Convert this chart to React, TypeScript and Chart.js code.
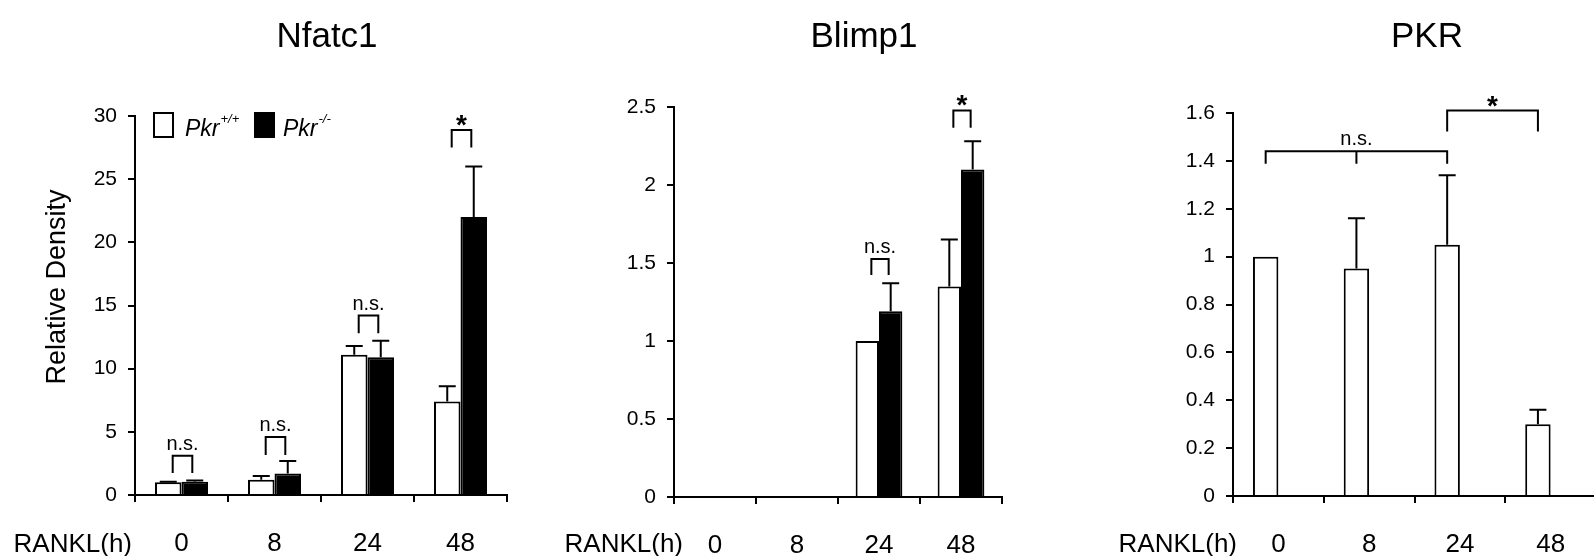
import React, { useEffect, useRef } from "react";
import { Chart, registerables } from "chart.js";

Chart.register(...registerables);

const FONT = "'Liberation Sans', Arial, Helvetica, sans-serif";

// ---------- data ----------
const categories = ["0", "8", "24", "48"];
const xAxisName = "RANKL(h)";
const yAxisName = "Relative Density";
const seriesBase = ["Pkr", "Pkr"];
const seriesSup = ["+/+", "-/-"];

const nfatc1WT = [1.0, 1.2, 11.1, 7.4];
const nfatc1WTErr = [0.05, 0.3, 0.7, 1.2];
const nfatc1KO = [1.05, 1.7, 10.9, 22.0];
const nfatc1KOErr = [0.1, 1.0, 1.3, 4.0];
const nfatc1Sig = [
  { cats: [0], top: 3.1, low: 1.74, text: "n.s." },
  { cats: [1], top: 4.6, low: 3.16, text: "n.s." },
  { cats: [2], top: 14.2, low: 12.8, text: "n.s." },
  { cats: [3], top: 28.9, low: 27.5, text: "*" },
];

const blimp1WT = [0, 0, 1.0, 1.35];
const blimp1WTErr = [0, 0, 0, 0.3];
const blimp1KO = [0, 0, 1.19, 2.1];
const blimp1KOErr = [0, 0, 0.18, 0.18];
const blimp1Sig = [
  { cats: [2], top: 1.525, low: 1.423, text: "n.s." },
  { cats: [3], top: 2.478, low: 2.367, text: "*" },
];

const pkrWT = [1.0, 0.95, 1.05, 0.3];
const pkrWTErr = [0, 0.21, 0.29, 0.06];
const pkrKO = [null, null, null, null];
const pkrKOErr = [0, 0, 0, 0];
const pkrSig = [
  { cats: [0, 1, 2], top: 1.44, low: 1.388, text: "n.s." },
  { cats: [2, 3], top: 1.61, low: 1.523, text: "*" },
];

// ---------- panel layout ----------
const panels = [
  {
    title: "Nfatc1", wt: nfatc1WT, wtErr: nfatc1WTErr, ko: nfatc1KO, koErr: nfatc1KOErr, sig: nfatc1Sig,
    yMax: 30, yStep: 5,
    canvasLeft: 0, canvasWidth: 530, chartLeft: 135, chartRight: 507, chartTop: 116, chartBottom: 495,
    titleX: 327, rankRight: 132, catPct: 0.57, showLegend: true, showYTitle: true,
  },
  {
    title: "Blimp1", wt: blimp1WT, wtErr: blimp1WTErr, ko: blimp1KO, koErr: blimp1KOErr, sig: blimp1Sig,
    yMax: 2.5, yStep: 0.5,
    canvasLeft: 540, canvasWidth: 500, chartLeft: 674, chartRight: 1002, chartTop: 107, chartBottom: 497,
    titleX: 864, rankRight: 683, catPct: 0.57, showLegend: false, showYTitle: false,
  },
  {
    title: "PKR", wt: pkrWT, wtErr: pkrWTErr, ko: pkrKO, koErr: pkrKOErr, sig: pkrSig,
    yMax: 1.6, yStep: 0.2,
    canvasLeft: 1060, canvasWidth: 545, chartLeft: 1233, chartRight: 1596, chartTop: 113, chartBottom: 496,
    titleX: 1427, rankRight: 1237, catPct: 0.56, showLegend: false, showYTitle: false,
  },
];

const H = 556;

function Panel({ p }: { p: any }) {
  const ref = useRef<HTMLCanvasElement | null>(null);
  useEffect(() => {
    if (!ref.current) return;
    const errs = [p.wtErr, p.koErr];
    const extras = {
      id: "extras" + p.title,
      afterDatasetsDraw(chart: any) {
        const ctx = chart.ctx;
        const ys = chart.scales.y;
        ctx.save();
        ctx.strokeStyle = "#000";
        ctx.lineWidth = 2;
        // error bars (upper only)
        for (let d = 0; d < 2; d++) {
          const meta = chart.getDatasetMeta(d);
          const vals = chart.data.datasets[d].data;
          meta.data.forEach((el: any, j: number) => {
            const v = vals[j];
            const e = errs[d][j];
            if (v == null || !e || e <= 0) return;
            const yTop = ys.getPixelForValue(v + e);
            ctx.beginPath();
            ctx.moveTo(el.x, el.y);
            ctx.lineTo(el.x, yTop);
            ctx.moveTo(el.x - 8.5, yTop);
            ctx.lineTo(el.x + 8.5, yTop);
            ctx.stroke();
          });
        }
        // significance brackets
        const m0 = chart.getDatasetMeta(0);
        const m1 = chart.getDatasetMeta(1);
        p.sig.forEach((s: any) => {
          const yT = ys.getPixelForValue(s.top);
          const yL = ys.getPixelForValue(s.low);
          let xs: number[];
          if (s.cats.length === 1) {
            const c = s.cats[0];
            const a = m0.data[c];
            const b = m1.data[c];
            const center = (a.x + b.x) / 2 + 1;
            const half = 0.37 * a.width;
            xs = [center - half, center + half];
          } else {
            xs = s.cats.map((c: number) => m0.data[c].x);
          }
          const x1 = xs[0];
          const x2 = xs[xs.length - 1];
          ctx.lineJoin = "miter";
          ctx.lineCap = "butt";
          ctx.beginPath();
          ctx.moveTo(x1, yL);
          ctx.lineTo(x1, yT);
          ctx.lineTo(x2, yT);
          ctx.lineTo(x2, yL);
          for (let k = 1; k < xs.length - 1; k++) {
            ctx.moveTo(xs[k], yT);
            ctx.lineTo(xs[k], yL);
          }
          ctx.stroke();
          ctx.fillStyle = "#000";
          ctx.textAlign = "center";
          ctx.textBaseline = "alphabetic";
          const cx = (x1 + x2) / 2;
          if (s.text === "*") {
            ctx.font = `bold 28px ${FONT}`;
            ctx.fillText("*", cx, yT + 4);
          } else {
            ctx.font = `20px ${FONT}`;
            ctx.fillText(s.text, cx, yT - 6);
          }
        });
        ctx.restore();
      },
      afterDraw(chart: any) {
        const ctx = chart.ctx;
        const off = p.canvasLeft;
        ctx.save();
        ctx.fillStyle = "#000";
        // title
        ctx.font = `35px ${FONT}`;
        ctx.textAlign = "center";
        ctx.textBaseline = "alphabetic";
        ctx.fillText(p.title, p.titleX - off, 47);
        // x axis name
        ctx.font = `26px ${FONT}`;
        ctx.textAlign = "right";
        ctx.textBaseline = "middle";
        ctx.fillText(xAxisName, p.rankRight - off, 545);
        // y axis title
        if (p.showYTitle) {
          ctx.save();
          ctx.translate(58, 287);
          ctx.rotate(-Math.PI / 2);
          ctx.font = `27px ${FONT}`;
          ctx.textAlign = "center";
          ctx.textBaseline = "middle";
          ctx.fillText(yAxisName, 0, 0);
          ctx.restore();
        }
        // legend
        if (p.showLegend) {
          const items = [
            { box: 154, text: 185, fill: "#fff" },
            { box: 255, text: 283, fill: "#000" },
          ];
          items.forEach((it, i) => {
            ctx.lineWidth = 2;
            ctx.strokeStyle = "#000";
            ctx.fillStyle = it.fill;
            ctx.fillRect(it.box, 113, 19, 24);
            ctx.strokeRect(it.box, 113, 19, 24);
            ctx.fillStyle = "#000";
            ctx.textAlign = "left";
            ctx.textBaseline = "alphabetic";
            ctx.font = `italic 23px ${FONT}`;
            ctx.fillText(seriesBase[i], it.text, 136);
            const w = ctx.measureText(seriesBase[i]).width;
            ctx.font = `italic 13px ${FONT}`;
            ctx.fillText(seriesSup[i], it.text + w + 1, 123);
          });
        }
        ctx.restore();
      },
    };

    const gridOpts = {
      display: true,
      drawOnChartArea: false,
      drawTicks: true,
      tickLength: 7,
      color: "#000",
      lineWidth: 2,
    };
    const chart = new Chart(ref.current, {
      type: "bar",
      data: {
        labels: categories,
        datasets: [
          {
            label: seriesBase[0] + seriesSup[0],
            data: p.wt,
            backgroundColor: "#ffffff",
            borderColor: "#000000",
            borderWidth: 2,
            categoryPercentage: p.catPct,
            barPercentage: 1,
          },
          {
            label: seriesBase[1] + seriesSup[1],
            data: p.ko,
            backgroundColor: "#000000",
            borderColor: "#000000",
            borderWidth: 2,
            categoryPercentage: p.catPct,
            barPercentage: 1,
          },
        ],
      },
      options: {
        animation: false,
        responsive: false,
        maintainAspectRatio: false,
        layout: {
          padding: {
            top: p.chartTop,
            left: 0,
            bottom: 0,
            right: p.canvasLeft + p.canvasWidth - p.chartRight,
          },
        },
        plugins: {
          legend: { display: false },
          tooltip: { enabled: false },
          title: { display: false },
        },
        scales: {
          x: {
            offset: true,
            grid: { ...gridOpts, offset: true },
            border: { display: true, color: "#000", width: 2 },
            ticks: {
              color: "#000",
              font: { family: FONT, size: 26 },
              padding: 26,
              maxRotation: 0,
              autoSkip: false,
            },
            afterFit: (s: any) => {
              s.height = H - p.chartBottom;
            },
          },
          y: {
            min: 0,
            max: p.yMax,
            grid: gridOpts,
            border: { display: true, color: "#000", width: 2 },
            ticks: {
              stepSize: p.yStep,
              color: "#000",
              font: { family: FONT, size: 21 },
              padding: 11,
              callback: (v: any) => String(Math.round(Number(v) * 10) / 10),
            },
            afterFit: (s: any) => {
              s.width = p.chartLeft - p.canvasLeft;
            },
          },
        },
      },
      plugins: [extras],
    } as any);
    return () => chart.destroy();
  }, []);
  return (
    <canvas
      ref={ref}
      width={p.canvasWidth}
      height={H}
      style={{
        position: "absolute",
        left: p.canvasLeft,
        top: 0,
        width: p.canvasWidth,
        height: H,
        display: "block",
      }}
    />
  );
}

export default function App() {
  return (
    <div
      style={{
        position: "fixed",
        left: 0,
        top: 0,
        width: 1594,
        height: H,
        overflow: "hidden",
        background: "#fff",
      }}
    >
      {panels.map((p) => (
        <Panel key={p.title} p={p} />
      ))}
    </div>
  );
}
